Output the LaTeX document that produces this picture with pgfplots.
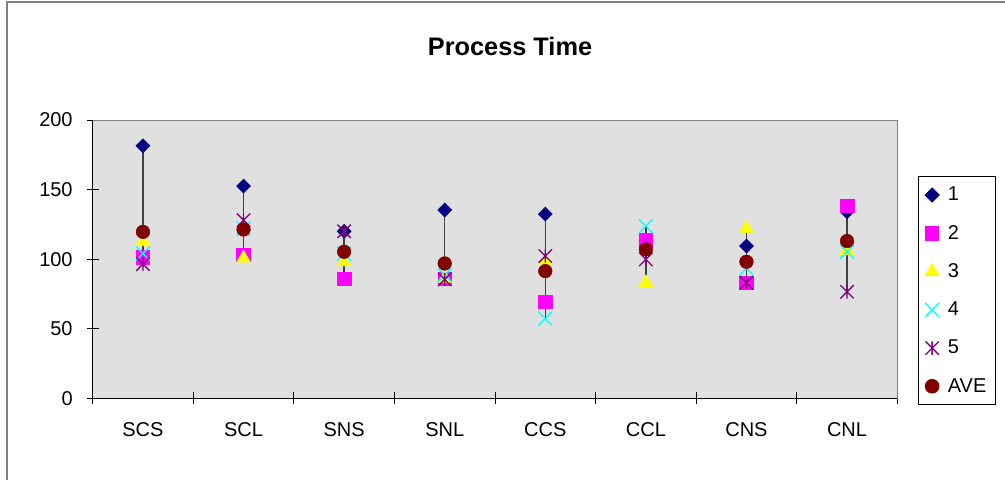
\documentclass[border=0pt]{standalone}
\usepackage{pgfplots}
\pgfplotsset{compat=1.18}
\usepackage{fontspec}
\setmainfont{Liberation Sans}
\definecolor{plotbg}{RGB}{224,224,224}
\definecolor{s1}{RGB}{0,0,128}
\definecolor{s2}{RGB}{255,0,255}
\definecolor{s3}{RGB}{255,255,0}
\definecolor{s4}{RGB}{0,255,255}
\definecolor{s5}{RGB}{128,0,128}
\definecolor{sa}{RGB}{128,0,0}
\pgfdeclareplotmark{xstar}{%
  \pgfpathmoveto{\pgfqpoint{-\pgfplotmarksize}{-\pgfplotmarksize}}%
  \pgfpathlineto{\pgfqpoint{\pgfplotmarksize}{\pgfplotmarksize}}%
  \pgfpathmoveto{\pgfqpoint{-\pgfplotmarksize}{\pgfplotmarksize}}%
  \pgfpathlineto{\pgfqpoint{\pgfplotmarksize}{-\pgfplotmarksize}}%
  \pgfpathmoveto{\pgfqpoint{0pt}{-\pgfplotmarksize}}%
  \pgfpathlineto{\pgfqpoint{0pt}{\pgfplotmarksize}}%
  \pgfusepathqstroke}
\begin{document}
\begin{tikzpicture}
\path[use as bounding box] (0,0) rectangle (753.75pt,360pt);
\draw[color={rgb,255:red,128;green,128;blue,128}, line width=1.5pt] (5pt,0pt) -- (5pt,358.5pt) -- (753.75pt,358.5pt);
\node[anchor=base, font=\fontsize{19}{22}\selectfont\bfseries] at (382.5pt,318.75pt) {Process Time};
\begin{axis}[
  at={(69.5pt,61.3pt)}, anchor=south west,
  scale only axis, width=603.5pt, height=208.7pt,
  xmin=-0.5, xmax=7.5, ymin=0, ymax=200,
  ytick={0,50,...,200},
  xtick={0,...,7},
  xticklabels={SCS,SCL,SNS,SNL,CCS,CCL,CNS,CNL},
  minor xtick={-0.5,0.5,...,7.5},
  major x tick style={draw=none},
  tick pos=left,
  tick align=center,
  major tick length=9pt, minor tick length=9pt,
  tick style={black, line width=0.75pt},
  axis background/.style={fill=plotbg},
  axis line style={color={rgb,255:red,128;green,128;blue,128}, line width=0.75pt},
  /pgf/number format/assume math mode=true,
  ticklabel style={font=\fontsize{15}{18}\selectfont},
  xticklabel style={yshift=-10.5pt},
  yticklabel style={xshift=-7pt},
  legend style={at={(1.0257,0.7988)}, anchor=north west, draw=black, line width=0.75pt,
    fill=white, font=\fontsize{15}{18}\selectfont, inner xsep=5pt, inner ysep=6pt,
    row sep=12.8pt, nodes={inner sep=2pt},
    /tikz/every odd column/.style={column sep=4.5pt}},
  legend cell align=left,
  after end axis/.code={
    \draw[black, line width=0.75pt] (rel axis cs:0,1) -- (rel axis cs:0,0) -- (rel axis cs:1,0);
  },
]
\addplot[black!75, line width=1pt, unbounded coords=jump, forget plot] coordinates {
  (0,96.4) (0,181.5) (0,nan)
  (1,101.5) (1,152.5) (1,nan)
  (2,86) (2,120) (2,nan)
  (3,85.4) (3,135.3) (3,nan)
  (4,57.3) (4,132.4) (4,nan)
  (5,83) (5,123.7) (5,nan)
  (6,83) (6,122) (6,nan)
  (7,76.5) (7,138.3)
};
\addplot[only marks, mark=square*, mark size=3.7pt, mark options={rotate=45, fill=s1, draw=s1}] coordinates {
  (0,181.5) (1,152.5) (2,120) (3,135.3) (4,132.4) (5,113) (6,109.4) (7,134)};
\addlegendentry{1}
\addplot[only marks, mark=square*, mark size=5.1pt, mark options={fill=s2, draw=s2}] coordinates {
  (0,101.5) (1,103) (2,86) (3,86) (4,69.3) (5,113.7) (6,83) (7,138.3)};
\addlegendentry{2}
\addplot[only marks, mark=triangle*, mark size=6pt, mark options={fill=s3, draw=s3}] coordinates {
  (0,112.5) (1,100.7) (2,98) (3,86) (4,98) (5,83) (6,122) (7,106)};
\addlegendentry{3}
\addplot[only marks, mark=x, mark size=7.4pt, mark options={draw=s4, line width=1pt}] coordinates {
  (0,104) (1,122) (2,104) (3,88.5) (4,57.3) (5,123.7) (6,93.3) (7,105.3)};
\addlegendentry{4}
\addplot[only marks, mark=xstar, mark size=5pt, mark options={draw=s5, line width=1pt}] coordinates {
  (0,96.4) (1,128) (2,120) (3,85.4) (4,102.2) (5,99.8) (6,83) (7,76.5)};
\addlegendentry{5}
\addplot[only marks, mark=*, mark size=5.1pt, mark options={fill=sa, draw=sa}] coordinates {
  (0,119.6) (1,121.3) (2,105.3) (3,96.9) (4,91.4) (5,107) (6,98.1) (7,113)};
\addlegendentry{AVE}
\end{axis}
\end{tikzpicture}
\end{document}
